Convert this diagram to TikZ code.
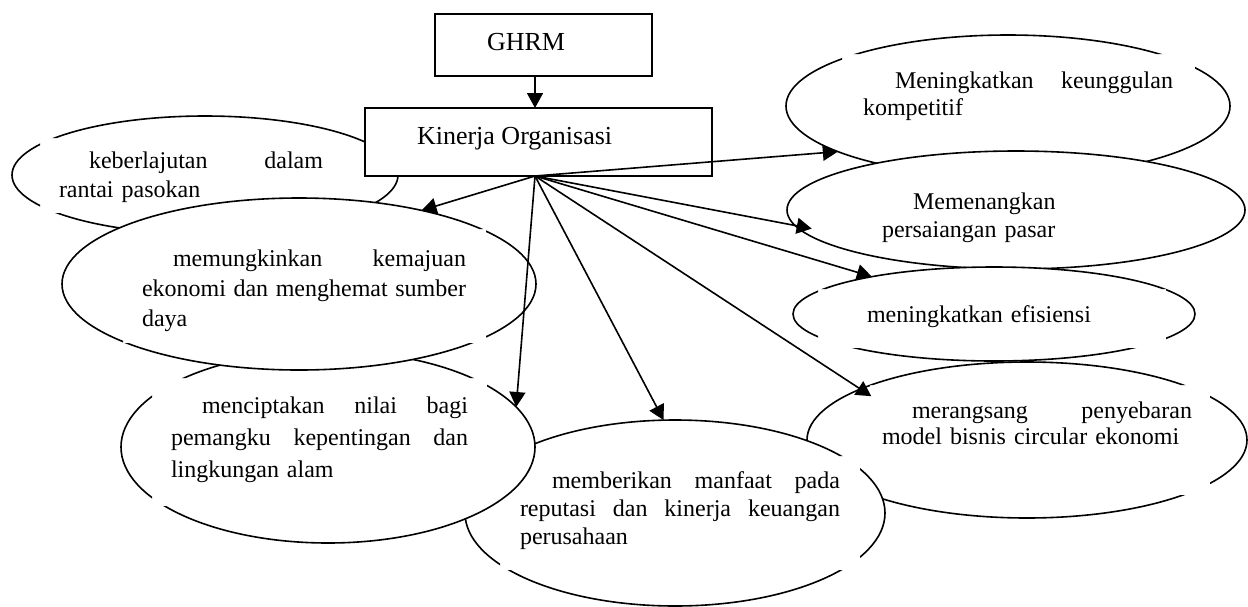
\documentclass[tikz,border=0pt]{standalone}
\usepackage{fontspec}
\setmainfont{Liberation Serif}
\usetikzlibrary{shapes.geometric,arrows.meta}
% outline of an oval, with the corners of its text frame left open
% #1 node, #2 x radius, #3 y radius, #4 #5 #6 #7 frame corners
\newcommand\ovalrim[7]{%
  \begin{scope}
    \clip (-20,-20) -- (1270,-20) -- (1270,630) -- (-20,630) -- cycle
          (#4,#5) -- (#4,#7) -- (#6,#7) -- (#6,#5) -- cycle;
    \draw[rim] (#1.center) ellipse [x radius=#2,y radius=#3];
  \end{scope}}
\begin{document}
\begin{tikzpicture}[x=0.5pt,y=-0.5pt,
  oval/.style={ellipse,fill=white,inner sep=0pt,outer sep=0pt},
  rim/.style={line width=0.8pt},
  boxnode/.style={rectangle,draw,line width=1pt,fill=white,inner sep=0pt,outer sep=0pt},
  txt/.style={anchor=base west,inner sep=0pt,outer sep=0pt,align=left},
  boxtxt/.style={anchor=base west,inner sep=0pt,outer sep=0pt,font=\fontsize{13}{15}\selectfont},
  arr/.style={line width=0.8pt,-{Triangle[length=7.5pt,width=8pt]}}]
\useasboundingbox[fill=white] (0,0) rectangle (1248,606);

% keberlajutan
\node[oval,minimum width=193pt,minimum height=59pt] (e1) at (205,175) {};
\ovalrim{e1}{193}{59}{40}{138}{340}{213}
\node[txt,text width=132pt,font=\fontsize{12}{14.5}\selectfont] (t1) at (59,168)
  {\hspace*{15pt}keberlajutan\hfill dalam\\rantai pasokan};

% boxes
\node[boxnode,minimum width=173.5pt,minimum height=34pt] (kin) at (538.5,142) {};
\node[boxtxt] (kint) at (417,144) {Kinerja Organisasi};
\node[boxnode,minimum width=108.5pt,minimum height=31pt] (ghrm) at (543.5,45) {};
\node[boxtxt] (ghrmt) at (487,50) {GHRM};
\coordinate (src) at ([xshift=-1.75pt]kin.south);

% Meningkatkan keunggulan kompetitif
\node[oval,minimum width=222pt,minimum height=71pt] (e5) at (1008,106) {};
\ovalrim{e5}{222}{71}{842}{54}{1195}{140}
\node[txt,text width=155pt,font=\fontsize{12}{13.5}\selectfont] (t5) at (863,88)
  {\hspace*{16pt}Meningkatkan\hfill keunggulan\\kompetitif};

% Memenangkan persaiangan pasar
\node[oval,minimum width=229pt,minimum height=59pt] (e6) at (1016,210) {};
\draw[rim] (e6.center) ellipse [x radius=229,y radius=59];
\node[txt,text width=155pt,font=\fontsize{12}{14}\selectfont] (t6) at (882,209)
  {\hspace*{15.5pt}Memenangkan\\persaiangan pasar};

% meningkatkan efisiensi
\node[oval,minimum width=201pt,minimum height=47pt] (e7) at (994,314) {};
\ovalrim{e7}{201}{47}{818}{289}{1166}{348}
\node[txt,text width=170pt,font=\fontsize{12}{14}\selectfont] (t7) at (867,322)
  {meningkatkan efisiensi};

% merangsang penyebaran
\node[oval,minimum width=220pt,minimum height=78pt] (e8) at (1027,440) {};
\ovalrim{e8}{220}{78}{870}{385}{1210}{495}
\node[txt,text width=155pt,font=\fontsize{12}{13}\selectfont] (t8) at (882,418)
  {\hspace*{15pt}merangsang\hfill penyebaran\\model bisnis circular ekonomi};

% memberikan manfaat
\node[oval,minimum width=210pt,minimum height=93pt] (e4) at (675,513) {};
\ovalrim{e4}{210}{93}{500}{456}{860}{570}
\node[txt,text width=160pt,font=\fontsize{12}{14}\selectfont] (t4) at (520,488)
  {\hspace*{16pt}memberikan\hfill manfaat\hfill pada\\reputasi\hfill dan\hfill kinerja\hfill keuangan\\perusahaan};

% menciptakan nilai
\node[oval,minimum width=207pt,minimum height=96pt] (e3) at (328,447) {};
\ovalrim{e3}{207}{96}{152}{378}{487}{506}
\node[txt,text width=148.5pt,font=\fontsize{12}{16}\selectfont] (t3) at (171,413)
  {\hspace*{15.5pt}menciptakan\hfill nilai\hfill bagi\\pemangku\hfill kepentingan\hfill dan\\lingkungan alam};

% memungkinkan kemajuan
\node[oval,minimum width=237pt,minimum height=86pt] (e2) at (299,284) {};
\ovalrim{e2}{237}{86}{123}{229}{486}{343}
\node[txt,text width=162pt,font=\fontsize{12}{15}\selectfont] (t2) at (142,266)
  {\hspace*{15.5pt}memungkinkan\hfill kemajuan\\ekonomi\hfill dan\hfill menghemat\hfill sumber\\daya};

% connectors
\draw[arr] (ghrm.south -| src) -- (kin.north -| src);
\draw[arr] (src) -- (e2.31.5);
\draw[arr] (src) -- (e3.12.5);
\draw[arr] (src) -- (e4.97.4);
\draw[arr,shorten >=-6.5pt] (src) -- (e8.163.1);
\draw[arr] (src) -- (e7.163.8);
\draw[arr,shorten >=-8.5pt] (src) -- (e6.184.8);
\draw[arr] (src) -- (e5.195.3);
\end{tikzpicture}
\end{document}
